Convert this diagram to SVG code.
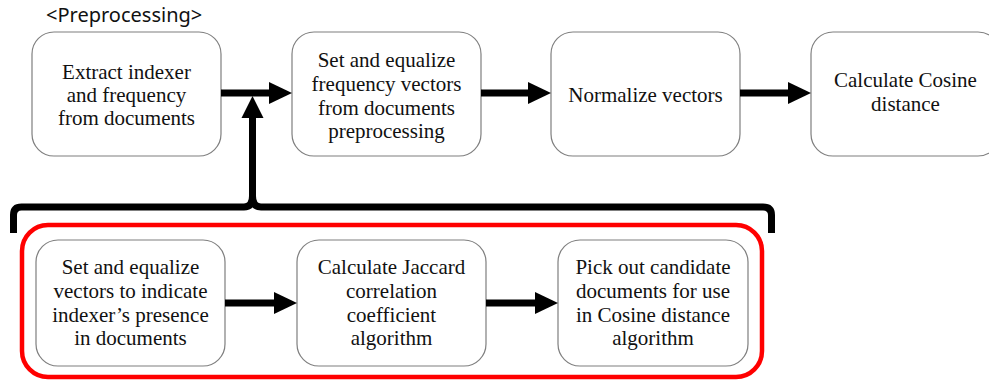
<svg xmlns="http://www.w3.org/2000/svg" width="989" height="380" viewBox="0 0 989 380">
<defs>
<style>
.box{fill:#fff;stroke:#7f7f7f;stroke-width:1.2}
.t{font-family:"Liberation Serif","Times New Roman",serif;font-size:21px;fill:#111;text-anchor:middle}
.lbl{font-family:"Noto Sans","Open Sans",sans-serif;font-size:20px;fill:#111}
.ar{stroke:#000;stroke-width:7;fill:none}
.hd{fill:#000}
</style>
</defs>
<rect width="989" height="380" fill="#fff"/>
<text class="lbl" x="46" y="22">&lt;Preprocessing&gt;</text>

<g id="n1"><rect class="box" x="32" y="32" width="189" height="124" rx="22"/>
<text class="t" x="126.5" y="79">Extract indexer</text><text class="t" x="126.5" y="102">and frequency</text><text class="t" x="126.5" y="125">from documents</text></g>
<g id="n2"><rect class="box" x="292" y="32" width="189" height="124" rx="22"/>
<text class="t" x="386.5" y="67">Set and equalize</text><text class="t" x="386.5" y="91">frequency vectors</text><text class="t" x="386.5" y="115">from documents</text><text class="t" x="386.5" y="138">preprocessing</text></g>
<g id="n3"><rect class="box" x="551" y="32" width="189" height="124" rx="22"/>
<text class="t" x="645.5" y="102">Normalize vectors</text></g>
<g id="n4"><rect class="box" x="811" y="32" width="189" height="124" rx="22"/>
<text class="t" x="905.5" y="87">Calculate Cosine</text><text class="t" x="905.5" y="111">distance</text></g>

<g id="group"><rect x="22" y="225" width="740" height="152" rx="26" fill="none" stroke="#ff0000" stroke-width="4.5"/></g>

<g id="b1"><rect class="box" x="36" y="240" width="189" height="126" rx="22"/>
<text class="t" x="130.5" y="274">Set and equalize</text><text class="t" x="130.5" y="298">vectors to indicate</text><text class="t" x="130.5" y="322">indexer’s presence</text><text class="t" x="130.5" y="345">in documents</text></g>
<g id="b2"><rect class="box" x="297" y="240" width="189" height="126" rx="22"/>
<text class="t" x="391.5" y="274">Calculate Jaccard</text><text class="t" x="391.5" y="298">correlation</text><text class="t" x="391.5" y="322">coefficient</text><text class="t" x="391.5" y="345">algorithm</text></g>
<g id="b3"><rect class="box" x="558" y="240" width="190" height="126" rx="22"/>
<text class="t" x="653" y="274">Pick out candidate</text><text class="t" x="653" y="298">documents for use</text><text class="t" x="653" y="322">in Cosine distance</text><text class="t" x="653" y="345">algorithm</text></g>

<g id="connectors">
<line class="ar" x1="221" y1="93" x2="271" y2="93"/><path class="hd" d="M269,82 L292,93 L269,104 Z"/>
<line class="ar" x1="481" y1="93" x2="530" y2="93"/><path class="hd" d="M528,82 L551,93 L528,104 Z"/>
<line class="ar" x1="740" y1="93" x2="790" y2="93"/><path class="hd" d="M788,82 L811,93 L788,104 Z"/>
<line class="ar" x1="225" y1="303" x2="276" y2="303"/><path class="hd" d="M274,292 L297,303 L274,314 Z"/>
<line class="ar" x1="486" y1="303" x2="537" y2="303"/><path class="hd" d="M535,292 L558,303 L535,314 Z"/>
<path class="ar" d="M13.5,233 V215 Q13.5,207 21.5,207 H244 Q252.5,207 252.5,196 Q252.5,207 261,207 H763 Q771.5,207 771.5,215 V233"/>
<line class="ar" x1="252.5" y1="200" x2="252.5" y2="116"/><path class="hd" d="M241.5,118 L252.5,96 L263.5,118 Z"/>
</g>
</svg>
